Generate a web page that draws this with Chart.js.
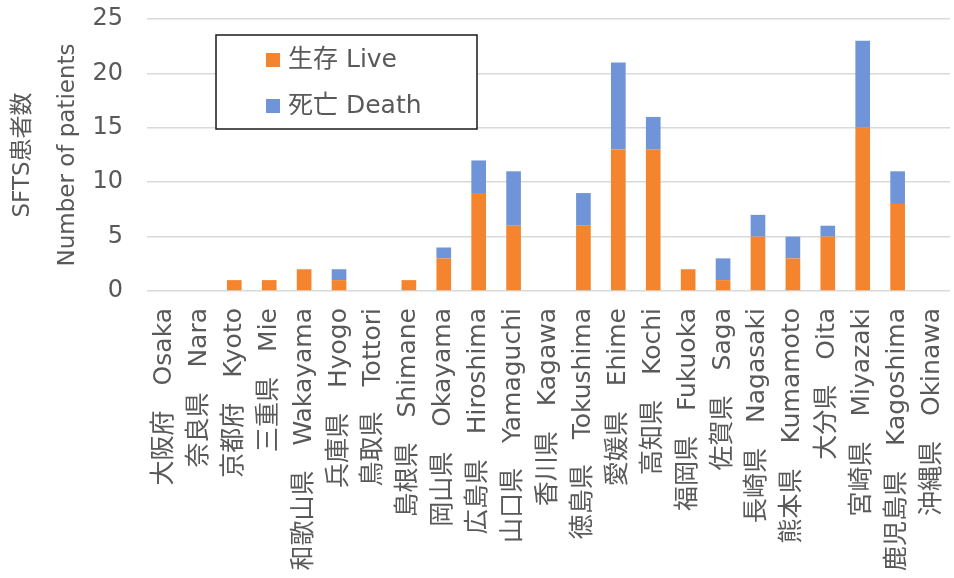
<!DOCTYPE html>
<html lang="ja">
<head>
<meta charset="utf-8">
<script src="https://cdn.jsdelivr.net/npm/chart.js@4.4.0/dist/chart.umd.min.js"></script>
<style>
  html, body { margin: 0; padding: 0; background: #fff; }
  #contenedor { width: 954px; height: 578px; }
</style>
</head>
<body>
<div id="contenedor"><canvas id="graficoSFTS"></canvas></div>
<script>
// Datos
const prefecturas = [
  "大阪府　Osaka", "奈良県　Nara", "京都府　Kyoto", "三重県　Mie",
  "和歌山県　Wakayama", "兵庫県　Hyogo", "鳥取県　Tottori", "島根県　Shimane",
  "岡山県　Okayama", "広島県　Hiroshima", "山口県　Yamaguchi", "香川県　Kagawa",
  "徳島県　Tokushima", "愛媛県　Ehime", "高知県　Kochi", "福岡県　Fukuoka",
  "佐賀県　Saga", "長崎県　Nagasaki", "熊本県　Kumamoto", "大分県　Oita",
  "宮崎県　Miyazaki", "鹿児島県　Kagoshima", "沖縄県　Okinawa"
];
const vivos   = [0, 0, 1, 1, 2, 1, 0, 1, 3, 9, 6, 0, 6, 13, 13, 2, 1, 5, 3, 5, 15, 8, 0];
const muertes = [0, 0, 0, 0, 0, 1, 0, 0, 1, 3, 5, 0, 3, 8, 3, 0, 2, 2, 2, 1, 8, 3, 0];
const ticksY  = [0, 5, 10, 15, 20, 25];
const etiquetaVivos   = "生存 Live";
const etiquetaMuertes = "死亡 Death";
const tituloY = ["SFTS患者数", "Number of patients"];

const fuente = "'DejaVu Sans', 'Noto Sans CJK JP', sans-serif";
const gris = "#595959";

//  Leyenda con marco dentro del área del gráfico
const leyendaCaja = {
  id: "leyendaCaja",
  afterDatasetsDraw(chart) {
    const ctx = chart.ctx;
    ctx.save();
    ctx.fillStyle = "#ffffff";
    ctx.fillRect(216, 35, 261, 94);
    ctx.strokeStyle = "#1a1a1a";
    ctx.lineWidth = 1.5;
    ctx.strokeRect(216, 35, 261, 94);
    ctx.font = "25px " + fuente;
    ctx.textBaseline = "middle";
    chart.data.datasets.forEach((ds, i) => {
      const y = 60 + i * 46;
      ctx.fillStyle = ds.backgroundColor;
      ctx.fillRect(266, y - 7, 14, 14);
      ctx.fillStyle = gris;
      ctx.fillText(ds.label, 288, y);
    });
    ctx.restore();
  }
};

const ctx = document.getElementById("graficoSFTS").getContext("2d");
new Chart(ctx, {
  type: "bar",
  data: {
    labels: prefecturas,
    datasets: [
      {
        label: etiquetaVivos,
        data: vivos,
        backgroundColor: "#F4842E",
        barPercentage: 0.42,
        categoryPercentage: 1
      },
      {
        label: etiquetaMuertes,
        data: muertes,
        backgroundColor: "#6F95D8",
        barPercentage: 0.42,
        categoryPercentage: 1
      }
    ]
  },
  options: {
    responsive: true,
    maintainAspectRatio: false,
    animation: false,
    layout: { padding: { top: 19, right: 4, left: 0, bottom: 0 } },
    plugins: {
      legend: { display: false },
      tooltip: { enabled: false }
    },
    scales: {
      x: {
        stacked: true,
        grid: { display: false },
        border: { display: false },
        ticks: {
          autoSkip: false,
          maxRotation: 90,
          minRotation: 90,
          padding: 9,
          color: gris,
          font: { family: fuente, size: 25 }
        },
        afterFit(scale) {
          scale.height = 287;
          scale.paddingLeft = 0;
          scale.paddingRight = 0;
        }
      },
      y: {
        stacked: true,
        min: 0,
        max: 25,
        grid: { color: "#d9d9d9", lineWidth: 1.5, drawTicks: false },
        border: { display: false },
        ticks: {
          padding: 24,
          color: gris,
          font: { family: fuente, size: 24 }
        },
        afterBuildTicks(scale) {
          scale.ticks = ticksY.map(v => ({ value: v }));
        },
        title: {
          display: true,
          text: tituloY,
          color: gris,
          font: { family: fuente, size: 23, lineHeight: 1.96 },
          padding: { top: 0.5, bottom: 0 }
        },
        afterFit(scale) {
          scale.width = 147;
          scale.paddingTop = 0;
          scale.paddingBottom = 0;
        }
      }
    }
  },
  plugins: [leyendaCaja]
});
</script>
</body>
</html>
